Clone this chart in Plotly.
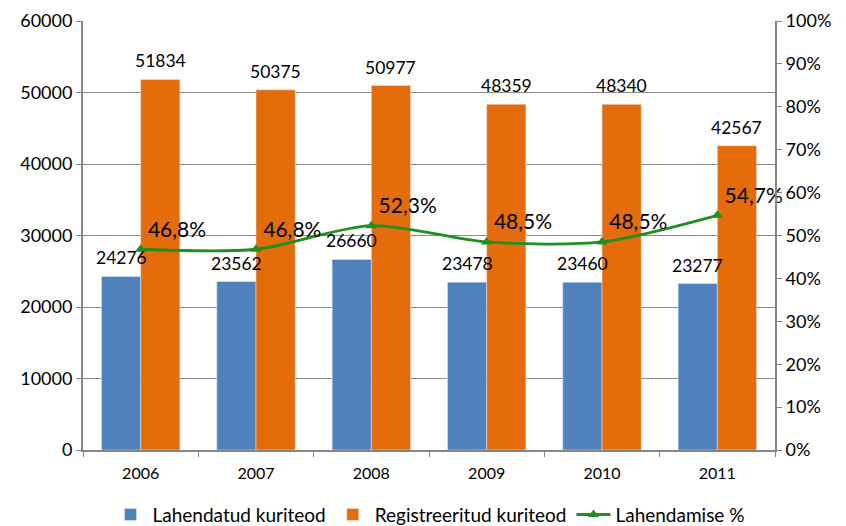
import plotly.graph_objects as go

years = ["2006", "2007", "2008", "2009", "2010", "2011"]
solved = [24276, 23562, 26660, 23478, 23460, 23277]
registered = [51834, 50375, 50977, 48359, 48340, 42567]
rate = [0.468, 0.468, 0.523, 0.485, 0.485, 0.547]
rate_labels = ["46,8%", "46,8%", "52,3%", "48,5%", "48,5%", "54,7%"]

FONT = "Lato, Calibri, Carlito, sans-serif"
BARGAP = 0.32
W, H = 838, 518          # page body adds an 8px margin
ML, MR, MT, MB = 75, 71, 13, 76

fig = go.Figure()
fig.add_trace(go.Bar(
    x=years, y=solved, name="Lahendatud kuriteod",
    marker=dict(color="#4F81BD"),
))
fig.add_trace(go.Bar(
    x=years, y=registered, name="Registreeritud kuriteod",
    marker=dict(color="#E46C0A"),
))
fig.add_trace(go.Scatter(
    x=years, y=rate, name="Lahendamise %", yaxis="y2",
    mode="lines+markers+text",
    line=dict(color="#1F8F1F", width=2.8, shape="spline", smoothing=0.8),
    marker=dict(symbol="triangle-up", size=10, color="#1F8F1F"),
    text=rate_labels, textposition="top right",
    textfont=dict(size=21, color="#000000", family=FONT),
    cliponaxis=False,
))

# value labels above bars (offset by half a bar width to sit over each bar)
cat_px = (W - ML - MR) / len(years)
half_bar = cat_px * (1 - BARGAP) / 4
for i, v in enumerate(solved):
    fig.add_annotation(x=i, y=v, text=str(v), showarrow=False, xshift=-half_bar,
                       yshift=6, yanchor="bottom",
                       font=dict(size=17.5, color="#000000", family=FONT))
for i, v in enumerate(registered):
    fig.add_annotation(x=i, y=v, text=str(v), showarrow=False, xshift=half_bar,
                       yshift=6, yanchor="bottom",
                       font=dict(size=17.5, color="#000000", family=FONT))

fig.update_layout(
    width=W, height=H,
    margin=dict(l=ML, r=MR, t=MT, b=MB, autoexpand=False),
    paper_bgcolor="white", plot_bgcolor="white",
    font=dict(family=FONT, size=18, color="#000000"),
    barmode="group", bargap=BARGAP, bargroupgap=0,
    showlegend=True,
    legend=dict(orientation="h", x=0.5, xanchor="center", y=-0.195, yanchor="bottom",
                font=dict(size=19, family=FONT), traceorder="normal",
                itemwidth=34, bgcolor="rgba(0,0,0,0)"),
    xaxis=dict(
        type="category", range=[-0.5, len(years) - 0.5],
        showline=True, linecolor="#868686", linewidth=2,
        ticks="outside", tickson="boundaries", ticklen=5, tickcolor="#868686",
        ticklabelstandoff=8,
        tickfont=dict(size=16, family=FONT), showgrid=False, automargin=False,
    ),
    yaxis=dict(
        range=[0, 60000], dtick=10000, tickformat="d",
        showline=True, linecolor="#868686", linewidth=2,
        ticks="outside", ticklen=5, tickcolor="#868686",
        showgrid=True, gridcolor="#8C8C8C", gridwidth=1,
        zeroline=False, tickfont=dict(size=18, family=FONT), automargin=False,
    ),
    yaxis2=dict(
        range=[0, 1], dtick=0.1, tickformat=".0%", overlaying="y", side="right",
        showline=True, linecolor="#868686", linewidth=2,
        ticks="outside", ticklen=5, tickcolor="#868686",
        showgrid=False, zeroline=False, tickfont=dict(size=18, family=FONT),
        automargin=False,
    ),
)

fig.write_html("out.html")
